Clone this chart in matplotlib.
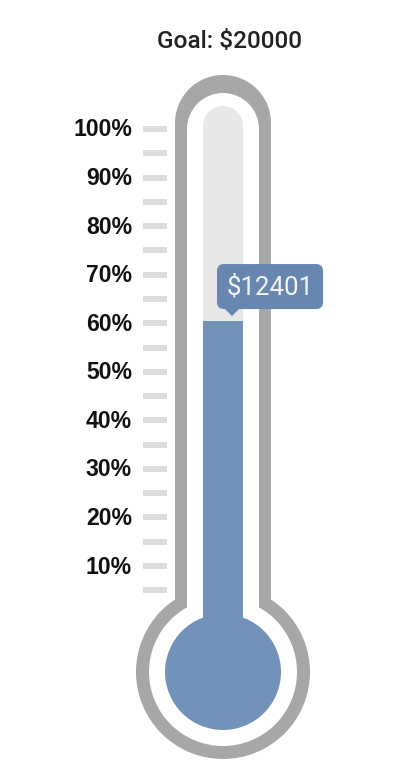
import matplotlib
matplotlib.use("Agg")
import matplotlib.pyplot as plt
from matplotlib.patches import Rectangle, Circle, FancyBboxPatch, Polygon

# ---- data ----
goal = 20000
raised = 12401
tick_percents = [5, 10, 15, 20, 25, 30, 35, 40, 45, 50, 55, 60, 65, 70, 75, 80, 85, 90, 95, 100]
label_percents = [10, 20, 30, 40, 50, 60, 70, 80, 90, 100]
tick_labels = [f"{p}%" for p in label_percents]

# ---- styles / layout (pixel space) ----
W, H = 394, 766
GRAY = "#a7a7a7"
TUBE = "#e8e8e8"
BLUE = "#7392b9"
CALLOUT = "#6887b0"
TICK = "#dddddd"
cx = 223
bulb_cy = 672
tube_top_inner = 106
scale_zero, scale_per_pct = 614.6, 4.856

fig = plt.figure(figsize=(W / 100, H / 100), dpi=100)
ax = fig.add_axes([0, 0, 1, 1])
ax.set_xlim(0, W)
ax.set_ylim(H, 0)
ax.set_aspect("equal")
ax.axis("off")

def capsule(half_w, top_cy, r_bulb, color, z):
    ax.add_patch(Rectangle((cx - half_w, top_cy), 2 * half_w, bulb_cy - top_cy, color=color, lw=0, zorder=z))
    ax.add_patch(Circle((cx, top_cy), half_w, color=color, lw=0, zorder=z))
    if r_bulb:
        ax.add_patch(Circle((cx, bulb_cy), r_bulb, color=color, lw=0, zorder=z))

capsule(48, 123, 87, GRAY, 1)
capsule(36, 129, 74, "white", 2)
capsule(20, 126, None, TUBE, 3)

# fill from bulb centre up to value level
fill_top = bulb_cy - raised / goal * (bulb_cy - tube_top_inner)
ax.add_patch(Rectangle((cx - 20, fill_top), 40, bulb_cy - fill_top, color=BLUE, lw=0, zorder=4))
ax.add_patch(Circle((cx, bulb_cy), 58, color=BLUE, lw=0, zorder=4))

# scale ticks
for p in tick_percents:
    y = scale_zero - p * scale_per_pct
    ax.add_patch(Rectangle((143, y - 3), 24, 6, color=TICK, lw=0, zorder=2))
for p, lab in zip(label_percents, tick_labels):
    y = scale_zero - p * scale_per_pct
    ax.text(132, y + 1, lab, ha="right", va="center", fontsize=16.6, fontweight="bold",
            family=["Liberation Sans", "DejaVu Sans"], color="#111111", zorder=5)

# callout
box_bottom = fill_top - 12
box_h = 45
ax.add_patch(FancyBboxPatch((217, box_bottom - box_h), 106, box_h,
                            boxstyle="round,pad=0,rounding_size=7", color=CALLOUT, lw=0, zorder=6))
ax.add_patch(Polygon([(224, box_bottom - 1), (240, box_bottom - 1), (232, fill_top - 5)],
                     closed=True, color=CALLOUT, lw=0, zorder=6))
ax.text(270, box_bottom - box_h / 2 + 1, f"${raised}", ha="center", va="center",
        fontsize=18.5, family=["Roboto", "DejaVu Sans"], color="#f4f4f4", zorder=7)

# title
ax.text(230, 41, f"Goal: ${goal}", ha="center", va="center", fontsize=17.6, fontweight="medium",
        family=["Roboto", "DejaVu Sans"], color="#222222", zorder=7)

fig.savefig("out.png", dpi=100)
